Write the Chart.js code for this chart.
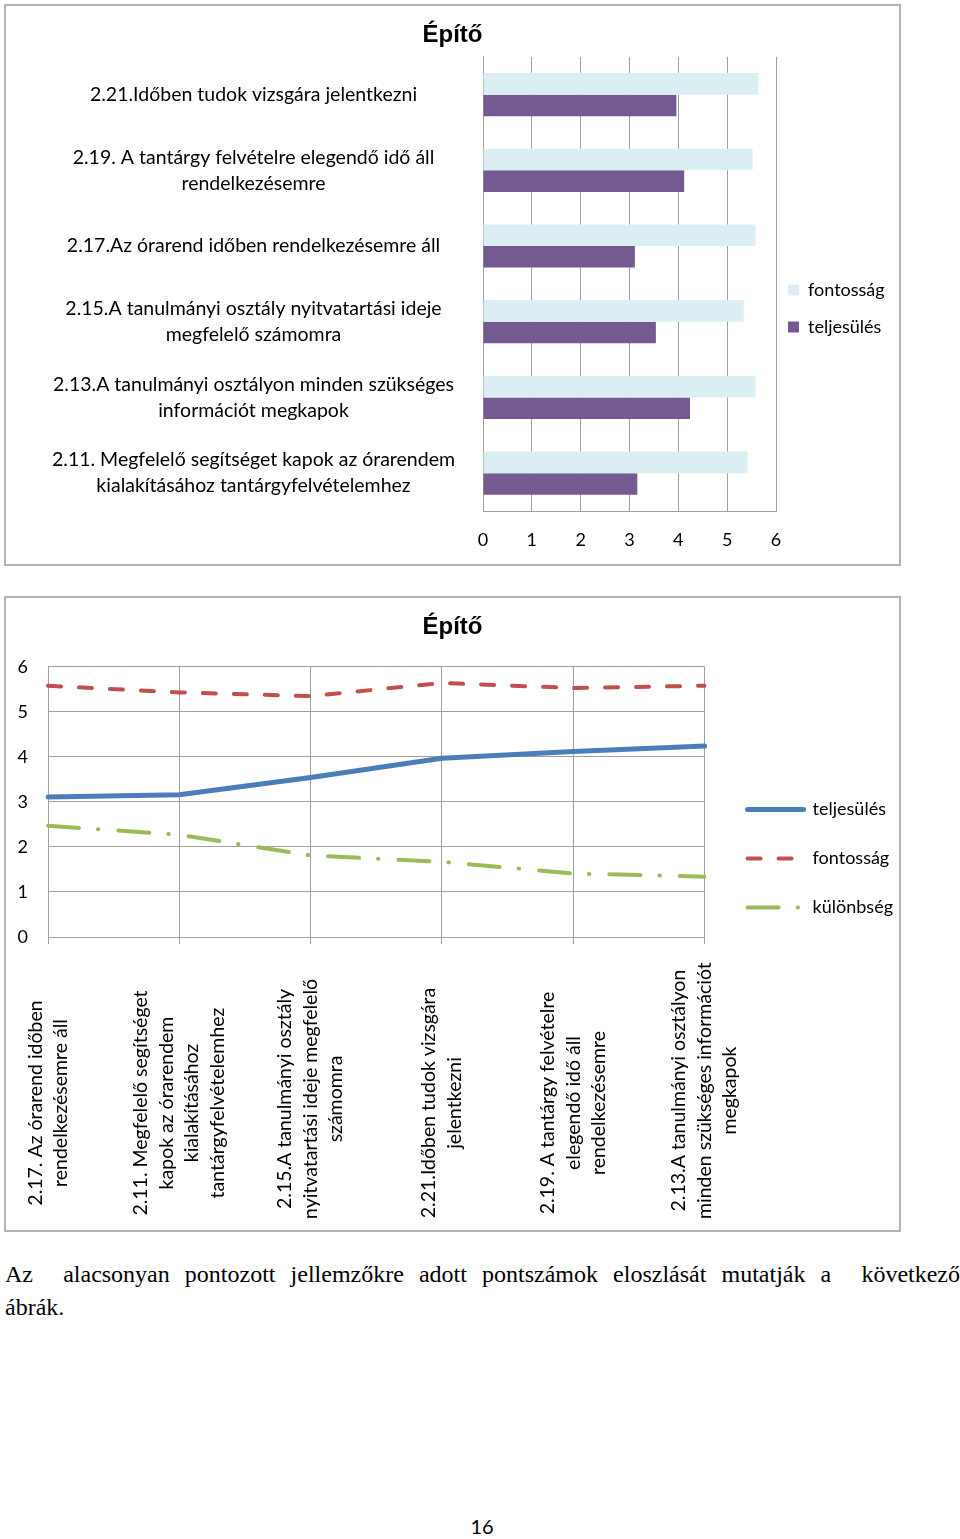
<!DOCTYPE html>
<html lang="hu">
<head>
<meta charset="utf-8">
<title>Építő</title>
<script src="https://cdn.jsdelivr.net/npm/chart.js@4.4.1/dist/chart.umd.min.js"></script>
<style>
  html, body { margin: 0; padding: 0; background: #fff; }
  body { position: relative; width: 960px; height: 1539px; overflow: hidden; }
  .frame { position: absolute; left: 4px; width: 893px; border: 2px solid #b4b4b4; background: #fff; }
  .frame canvas { display: block; }
  #bar-frame { top: 4px; height: 558px; }
  #line-frame { top: 596px; height: 632px; }
  .para { position: absolute; left: 5px; top: 1258px; width: 955px; font: 24px/33px "Liberation Serif", serif; color: #000; }
  .para .first { text-align: justify; text-align-last: justify; }
  .page-no { position: absolute; top: 1514px; left: 0; width: 964px; text-align: center; font: 20px Lato, sans-serif; }
</style>
</head>
<body>
<div class="frame" id="bar-frame"><canvas id="bar-chart" width="893" height="558"></canvas></div>
<div class="frame" id="line-frame"><canvas id="line-chart" width="893" height="632"></canvas></div>
<div class="para">
  <div class="first">Az &nbsp;alacsonyan pontozott jellemzőkre adott pontszámok eloszlását mutatják a &nbsp;következő</div>
  <div>ábrák.</div>
</div>
<div class="page-no">16</div>
<script>
// Data
const barCategories = [
  '2.21.Időben tudok vizsgára jelentkezni',
  ['2.19. A tantárgy felvételre elegendő idő áll', 'rendelkezésemre'],
  '2.17.Az órarend időben rendelkezésemre áll',
  ['2.15.A tanulmányi osztály nyitvatartási ideje', 'megfelelő számomra'],
  ['2.13.A tanulmányi osztályon minden szükséges', 'információt megkapok'],
  ['2.11. Megfelelő segítséget kapok az órarendem', 'kialakításához tantárgyfelvételemhez']
];
const barFontossag = [5.64, 5.52, 5.58, 5.34, 5.58, 5.42];
const barTeljesules = [3.96, 4.12, 3.11, 3.54, 4.24, 3.16];
const barTicks = [0, 1, 2, 3, 4, 5, 6];

const lineCategories = [
  ['2.17. Az órarend időben', 'rendelkezésemre áll'],
  ['2.11. Megfelelő segítséget', 'kapok az órarendem', 'kialakításához', 'tantárgyfelvételemhez'],
  ['2.15.A tanulmányi osztály', 'nyitvatartási ideje megfelelő', 'számomra'],
  ['2.21.Időben tudok vizsgára', 'jelentkezni'],
  ['2.19. A tantárgy felvételre', 'elegendő idő áll', 'rendelkezésemre'],
  ['2.13.A tanulmányi osztályon', 'minden szükséges információt', 'megkapok']
];
const lineTeljesules = [3.11, 3.16, 3.54, 3.97, 4.12, 4.24];
const lineFontossag = [5.58, 5.43, 5.35, 5.64, 5.53, 5.58];
const lineKulonbseg = [2.47, 2.27, 1.81, 1.67, 1.41, 1.34];
const lineTicks = [0, 1, 2, 3, 4, 5, 6];

// Styles
const GRID = '#a0a0a0';
const FONT = 'Lato';
const titleFont = { family: 'Liberation Sans', size: 24, weight: 'bold' };

Chart.defaults.font.family = FONT;
Chart.defaults.font.size = 18;
Chart.defaults.color = '#000';

const query = (sel) => document.querySelector(sel);

// moves the legend box after layout
const legendShift = {
  id: 'legendShift',
  afterLayout(chart, args, opts) {
    const lg = chart.legend;
    if (!lg) return;
    lg.left += opts.x || 0;
    lg.right += opts.x || 0;
    lg.top += opts.y || 0;
    lg.bottom += opts.y || 0;
  }
};

// rotated, centred multi-line category labels under the x axis
const rotatedLabels = {
  id: 'rotatedLabels',
  afterDraw(chart, args, opts) {
    const { ctx } = chart;
    const x = chart.scales.x;
    ctx.save();
    ctx.font = `${opts.size}px ${FONT}`;
    ctx.fillStyle = '#000';
    ctx.textAlign = 'center';
    ctx.textBaseline = 'middle';
    chart.data.labels.forEach((label, i) => {
      const lines = Array.isArray(label) ? label : [label];
      const px = x.getPixelForValue(i);
      const half = Math.max(...lines.map(l => ctx.measureText(l).width)) / 2;
      let cy = Math.min(x.top + opts.center, x.top + opts.bottom - half);
      cy = Math.max(cy, x.top + opts.gap + half);
      ctx.save();
      ctx.translate(px, cy);
      ctx.rotate(-Math.PI / 2);
      lines.forEach((l, j) => ctx.fillText(l, 0, (j - (lines.length - 1) / 2) * opts.lineHeight));
      ctx.restore();
    });
    ctx.restore();
  }
};

new Chart(query('#bar-chart'), {
  type: 'bar',
  data: {
    labels: barCategories,
    datasets: [
      { label: 'fontosság', data: barFontossag, backgroundColor: '#dbeef4' },
      { label: 'teljesülés', data: barTeljesules, backgroundColor: '#745a91' }
    ]
  },
  options: {
    indexAxis: 'y',
    responsive: false,
    animation: false,
    layout: { padding: { top: 0, right: 6, bottom: 13, left: 6 } },
    datasets: { bar: { categoryPercentage: 0.57, barPercentage: 1 } },
    scales: {
      x: {
        min: barTicks[0],
        max: barTicks[barTicks.length - 1],
        ticks: { stepSize: 1, padding: 18 },
        grid: { color: GRID, drawTicks: false },
        border: { color: GRID },
        afterFit: (scale) => { scale.height = 40; }
      },
      y: {
        grid: { display: false },
        border: { color: GRID },
        ticks: { crossAlign: 'center', padding: 20, font: { size: 19.5, lineHeight: 1.33 } },
        afterFit: (scale) => { scale.width = 471; }
      }
    },
    plugins: {
      title: { display: true, text: 'Építő', font: titleFont, color: '#000', padding: { top: 15, bottom: 7 } },
      legend: {
        position: 'right',
        maxWidth: 117,
        labels: { boxWidth: 11, boxHeight: 11, padding: 19, font: { size: 18 } }
      },
      legendShift: { x: -7, y: 30 },
      tooltip: { enabled: false }
    }
  },
  plugins: [legendShift]
});

const lineLegendLabels = (chart) => chart.data.datasets.map((ds, i) => ({
  text: ds.label,
  fillStyle: ds.borderColor,
  strokeStyle: ds.borderColor,
  lineWidth: ds.borderWidth,
  lineDash: ds.borderDash || [],
  lineCap: 'round',
  pointStyle: 'line',
  fontColor: '#000',
  datasetIndex: i
}));

new Chart(query('#line-chart'), {
  type: 'line',
  data: {
    labels: lineCategories,
    datasets: [
      {
        label: 'teljesülés', data: lineTeljesules,
        borderColor: '#4a7ebb', borderWidth: 5, borderCapStyle: 'round'
      },
      {
        label: 'fontosság', data: lineFontossag,
        borderColor: '#c0504d', borderWidth: 4, borderDash: [13, 18], borderCapStyle: 'round'
      },
      {
        label: 'különbség', data: lineKulonbseg,
        borderColor: '#9bbb59', borderWidth: 4, borderDash: [31, 19, 0.5, 20], borderCapStyle: 'round'
      }
    ]
  },
  options: {
    responsive: false,
    animation: false,
    layout: { padding: { top: 0, right: 8, bottom: 3, left: 8 } },
    elements: { point: { radius: 0 }, line: { tension: 0, borderJoinStyle: 'round' } },
    scales: {
      x: {
        offset: false,
        ticks: { display: false },
        grid: { color: GRID, tickLength: 7 },
        border: { color: GRID },
        afterFit: (scale) => { scale.height = 290; }
      },
      y: {
        min: lineTicks[0],
        max: lineTicks[lineTicks.length - 1],
        ticks: { stepSize: 1, padding: 20 },
        grid: { color: GRID, drawTicks: false },
        border: { color: GRID },
        afterFit: (scale) => { scale.width = 34; }
      }
    },
    plugins: {
      title: { display: true, text: 'Építő', font: titleFont, color: '#000', padding: { top: 15, bottom: 25 } },
      legend: {
        position: 'right',
        labels: {
          usePointStyle: true, pointStyleWidth: 56, padding: 31,
          font: { size: 18 }, generateLabels: lineLegendLabels
        }
      },
      legendShift: { x: 12, y: -54 },
      rotatedLabels: { size: 19.5, lineHeight: 25.5, gap: 11, center: 166, bottom: 282 },
      tooltip: { enabled: false }
    }
  },
  plugins: [legendShift, rotatedLabels]
});
</script>
</body>
</html>
